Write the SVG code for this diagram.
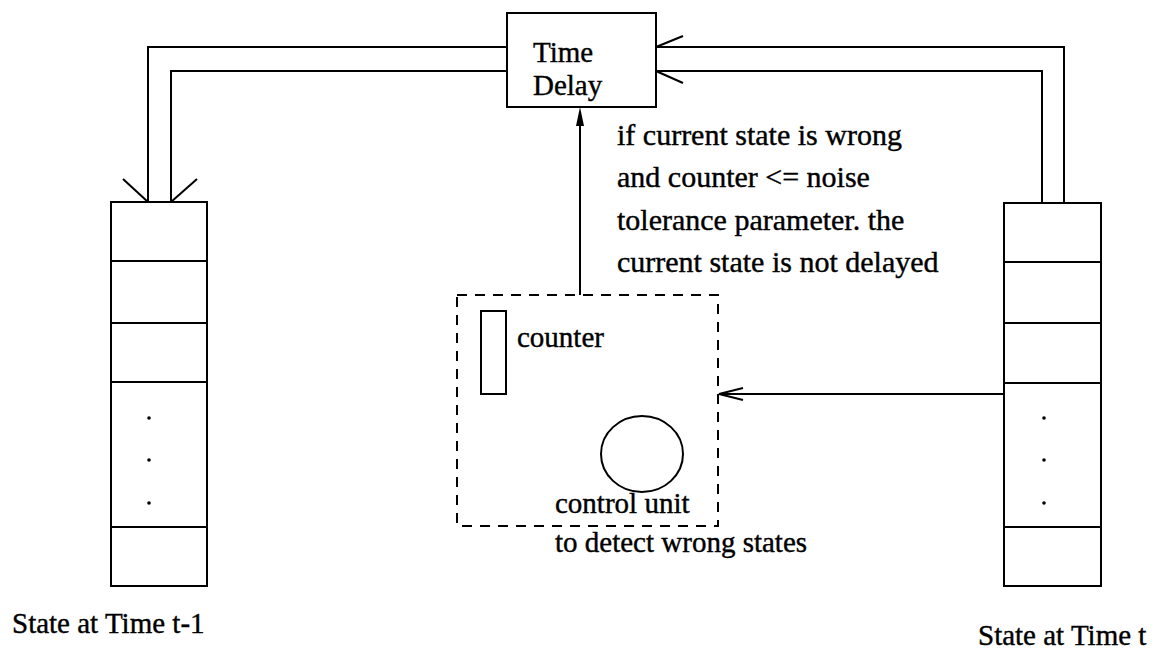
<svg xmlns="http://www.w3.org/2000/svg" width="1159" height="651" viewBox="0 0 1159 651">
<style>
.ln{fill:none;stroke:#000;stroke-width:2}
.dash{fill:none;stroke:#000;stroke-width:2;stroke-dasharray:10 8}
.t{font-family:"Liberation Serif","Times New Roman",serif;font-size:29px;fill:#000;stroke:#000;stroke-width:0.4}
.c{font-size:30px}
.dot{fill:#000}
</style>
<rect width="1159" height="651" fill="#fff"/>
<g id="connectors">
<polyline class="ln" points="507,47 148,47 148,202"/>
<polyline class="ln" points="507,71 171,71 171,202"/>
<line class="ln" x1="123" y1="179" x2="148" y2="202"/>
<line class="ln" x1="197" y1="179" x2="171" y2="202"/>
<polyline class="ln" points="656,47 1064,47 1064,203"/>
<polyline class="ln" points="656,71 1042,71 1042,203"/>
<line class="ln" x1="683" y1="36" x2="656" y2="47"/>
<line class="ln" x1="683" y1="83" x2="656" y2="71"/>
<line class="ln" x1="580" y1="295" x2="580" y2="115"/>
<polygon points="580,107 576,126 584,126" fill="#000"/>
<line class="ln" x1="1004" y1="394" x2="719" y2="394"/>
<polyline class="ln" points="743,388 719,394 743,400"/>
</g>
<g id="time-delay">
<rect class="ln" x="507" y="13" width="149" height="94"/>
<text class="t" x="533" y="62">Time</text>
<text class="t" x="533" y="95">Delay</text>
</g>
<g id="state-t-minus-1">
<rect class="ln" x="111" y="202" width="96" height="384"/>
<line class="ln" x1="111" y1="261" x2="207" y2="261"/>
<line class="ln" x1="111" y1="323" x2="207" y2="323"/>
<line class="ln" x1="111" y1="382" x2="207" y2="382"/>
<line class="ln" x1="111" y1="527" x2="207" y2="527"/>
<circle class="dot" cx="149" cy="418" r="1.8"/>
<circle class="dot" cx="149" cy="460" r="1.8"/>
<circle class="dot" cx="149" cy="503" r="1.8"/>
<text class="t" x="12" y="633">State at Time t-1</text>
</g>
<g id="state-t">
<rect class="ln" x="1004" y="203" width="97" height="383"/>
<line class="ln" x1="1004" y1="262" x2="1101" y2="262"/>
<line class="ln" x1="1004" y1="323" x2="1101" y2="323"/>
<line class="ln" x1="1004" y1="383" x2="1101" y2="383"/>
<line class="ln" x1="1004" y1="527" x2="1101" y2="527"/>
<circle class="dot" cx="1044" cy="418" r="1.8"/>
<circle class="dot" cx="1044" cy="460" r="1.8"/>
<circle class="dot" cx="1044" cy="503" r="1.8"/>
<text class="t" x="978" y="645">State at Time t</text>
</g>
<g id="condition-label">
<text class="t c" x="617" y="145">if current state is wrong</text>
<text class="t c" x="617" y="187">and counter &lt;= noise</text>
<text class="t c" x="617" y="230">tolerance parameter. the</text>
<text class="t c" x="617" y="272">current state is not delayed</text>
</g>
<g id="control-box">
<rect class="dash" x="457" y="295" width="261" height="231"/>
<rect class="ln" x="481" y="311" width="25" height="83"/>
<text class="t" x="517" y="347">counter</text>
<ellipse class="ln" cx="642" cy="454" rx="41" ry="38"/>
<text class="t" x="555" y="513">control unit</text>
<text class="t" x="555" y="552">to detect wrong states</text>
</g>
</svg>
